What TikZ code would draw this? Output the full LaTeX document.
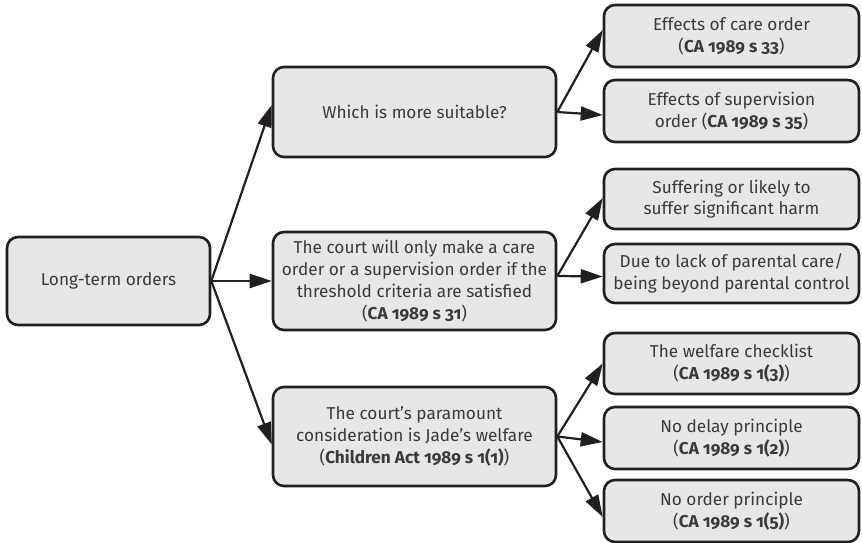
\documentclass[tikz,border=0pt]{standalone}
\usepackage{fontspec}
\setmainfont{Fira Sans}[Numbers=OldStyle]
\usetikzlibrary{arrows.meta}
\definecolor{boxfill}{HTML}{E6E7E8}
\definecolor{boxline}{HTML}{231F20}
\definecolor{txt}{HTML}{3A3A3C}
\tikzset{
  card/.style={draw=boxline, fill=boxfill, line width=2.6pt, rounded corners=11pt,
    align=center, text=txt, inner sep=0pt,
    font=\fontsize{17.2}{21.7}\selectfont},
  arr/.style={draw=boxline, line width=2.2pt, -{Triangle[length=22pt,width=14pt]}}
}
\begin{document}
\begin{tikzpicture}[x=1pt,y=-1pt]
\useasboundingbox (0,0) rectangle (862,543);

% root
\node[card, minimum width=203, minimum height=88] (lto) at (108.5,281) {Long-term orders};

% middle column
\node[card, minimum width=283, minimum height=90] (which) at (414.5,112) {Which is more suitable?};
\node[card, minimum width=283, minimum height=98] (court) at (414.5,281)
  {The court will only make a care\\order or a supervision order if the\\threshold criteria are satisfied\\(\textbf{CA 1989 s 31})};
\node[card, minimum width=283, minimum height=99] (para) at (414.5,436.5)
  {The court’s paramount\\consideration is Jade’s welfare\\(\textbf{Children Act 1989 s 1(1)})};

% right column
\node[card, minimum width=255, minimum height=62] (care) at (731.5,36)
  {Effects of care order\\(\textbf{CA 1989 s 33})};
\node[card, minimum width=255, minimum height=62] (sup) at (731.5,111)
  {Effects of supervision\\order (\textbf{CA 1989 s 35})};
\node[card, minimum width=255, minimum height=60] (suff) at (731.5,199)
  {Suffering or likely to\\suffer significant harm};
\node[card, minimum width=255, minimum height=59] (lack) at (731.5,273.5)
  {Due to lack of parental care/\\being beyond parental control};
\node[card, minimum width=255, minimum height=61] (welf) at (731.5,363.5)
  {The welfare checklist\\(\textbf{CA 1989 s 1(3)})};
\node[card, minimum width=255, minimum height=62] (delay) at (731.5,438)
  {No delay principle\\(\textbf{CA 1989 s 1(2)})};
\node[card, minimum width=255, minimum height=62] (noord) at (731.5,511)
  {No order principle\\(\textbf{CA 1989 s 1(5)})};

% connectors
\draw[arr] (lto.east) -- ([yshift=7]which.west);
\draw[arr] (lto.east) -- (court.west);
\draw[arr] (lto.east) -- ([yshift=-8]para.west);

\draw[arr] (which.east) -- ([yshift=6]care.west);
\draw[arr] (which.east) -- ([yshift=-4]sup.west);

\draw[arr] ([yshift=5]court.east) -- ([yshift=1]suff.west);
\draw[arr] ([yshift=5]court.east) -- ([yshift=-3]lack.west);

\draw[arr] (para.east) -- (welf.west);
\draw[arr] (para.east) -- ([yshift=-4]delay.west);
\draw[arr] (para.east) -- ([yshift=-6]noord.west);
\end{tikzpicture}
\end{document}
